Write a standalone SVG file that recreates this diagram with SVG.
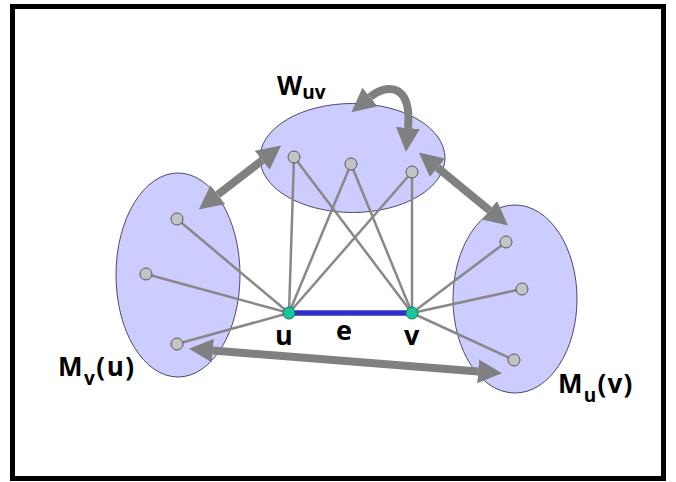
<svg xmlns="http://www.w3.org/2000/svg" width="676" height="482" viewBox="0 0 676 482">
<style>
.set{fill:#ccccff;stroke:#4a4a6a;stroke-width:1}
.edge{stroke:#888;stroke-width:2.5;fill:none}
.nd{fill:#c4c4c4;stroke:#555;stroke-width:1}
.key{fill:#1cc69a;stroke:#0a7a5a;stroke-width:1}
.big{stroke:#808080;stroke-width:8;fill:none;marker-start:url(#ah);marker-end:url(#ah)}
.lbl{font-family:"Open Sans","Liberation Sans",sans-serif;font-weight:bold;fill:#000}
</style>
<defs>
<marker id="ah" markerUnits="userSpaceOnUse" markerWidth="24" markerHeight="24" viewBox="0 0 22 22" refX="0" refY="11" orient="auto-start-reverse">
<path d="M0,0 L22,11 L0,22 z" fill="#808080"/>
</marker>
</defs>
<rect x="12.5" y="6.5" width="651" height="472" fill="#fff" stroke="#000" stroke-width="5"/>
<g id="W">
<ellipse class="set" cx="352.5" cy="158" rx="92.5" ry="54.5"/>
</g>
<g id="Mvu">
<ellipse class="set" cx="178" cy="275" rx="62" ry="102"/>
</g>
<g id="Muv">
<ellipse class="set" cx="515" cy="299" rx="62" ry="94"/>
</g>
<g id="connectors">
<line class="edge" x1="289" y1="313" x2="177" y2="219"/>
<line class="edge" x1="289" y1="313" x2="146" y2="274"/>
<line class="edge" x1="289" y1="313" x2="177" y2="344"/>
<line class="edge" x1="289" y1="313" x2="294" y2="157"/>
<line class="edge" x1="289" y1="313" x2="351" y2="164"/>
<line class="edge" x1="289" y1="313" x2="412" y2="172"/>
<line class="edge" x1="412" y1="313" x2="294" y2="157"/>
<line class="edge" x1="412" y1="313" x2="351" y2="164"/>
<line class="edge" x1="412" y1="313" x2="412" y2="172"/>
<line class="edge" x1="412" y1="313" x2="506" y2="242"/>
<line class="edge" x1="412" y1="313" x2="522" y2="289"/>
<line class="edge" x1="412" y1="313" x2="514" y2="360"/>
<line x1="289" y1="313" x2="412" y2="313" stroke="#3030c8" stroke-width="5.5"/>
<line class="big" x1="217.8" y1="194.7" x2="262.2" y2="160.3"/>
<line class="big" x1="437.5" y1="167.7" x2="489.5" y2="210.3"/>
<line class="big" x1="212.9" y1="350.6" x2="478.1" y2="371.4"/>
<path class="big" stroke-width="7" d="M370,97 C386,84 412,82 408,128"/>
</g>
<g id="n_w1"><circle class="nd" cx="294" cy="157" r="6"/></g>
<g id="n_w2"><circle class="nd" cx="351" cy="164" r="6"/></g>
<g id="n_w3"><circle class="nd" cx="412" cy="172" r="6"/></g>
<g id="n_l1"><circle class="nd" cx="177" cy="219" r="6"/></g>
<g id="n_l2"><circle class="nd" cx="146" cy="274" r="6"/></g>
<g id="n_l3"><circle class="nd" cx="177" cy="344" r="6"/></g>
<g id="n_r1"><circle class="nd" cx="506" cy="242" r="6"/></g>
<g id="n_r2"><circle class="nd" cx="522" cy="289" r="6"/></g>
<g id="n_r3"><circle class="nd" cx="514" cy="360" r="6"/></g>
<g id="u"><circle class="key" cx="289" cy="313" r="6"/><text class="lbl" x="275" y="345" font-size="27">u</text></g>
<g id="v"><circle class="key" cx="412" cy="313" r="6"/><text class="lbl" x="404" y="345" font-size="27">v</text></g>
<g id="e"><text class="lbl" x="336" y="340" font-size="27">e</text></g>
<g id="lbl_W"><text class="lbl" x="277" y="95" font-size="26">W<tspan font-size="19" dy="4">uv</tspan></text></g>
<g id="lbl_Mvu"><text class="lbl" x="58" y="376" font-size="26" letter-spacing="1.5">M<tspan font-size="19" dy="9">v</tspan><tspan dy="-9">(u)</tspan></text></g>
<g id="lbl_Muv"><text class="lbl" x="558" y="393" font-size="26" letter-spacing="1.2">M<tspan font-size="19" dy="9">u</tspan><tspan dy="-9">(v)</tspan></text></g>
</svg>
